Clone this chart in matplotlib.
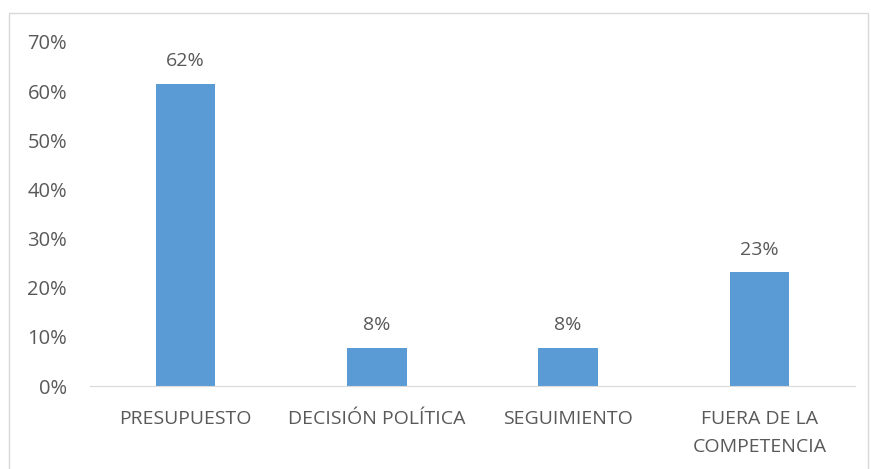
import matplotlib.pyplot as plt
from matplotlib.patches import Rectangle
from matplotlib.ticker import PercentFormatter

categories = ["PRESUPUESTO", "DECISIÓN POLÍTICA", "SEGUIMIENTO", "FUERA DE LA\nCOMPETENCIA"]
values = [0.615, 0.077, 0.077, 0.231]
labels = ["62%", "8%", "8%", "23%"]

plt.rcParams['font.family'] = ['Open Sans', 'DejaVu Sans']
txt = '#595959'

fig = plt.figure(figsize=(8.71, 4.69), dpi=100)
ax = fig.add_axes([90/871, 83/469, 765/871, 344/469])

x = range(len(categories))
ax.bar(x, values, width=0.31, color='#5b9bd5')
for i, v in enumerate(values):
    ax.text(i, v + 0.028, labels[i], ha='center', va='bottom', fontsize=14, color=txt)

ax.set_xlim(-0.5, 3.5)
ax.set_ylim(0, 0.7)
ax.set_yticks([i / 10 for i in range(8)])
ax.yaxis.set_major_formatter(PercentFormatter(1.0, decimals=0))
ax.set_xticks(list(x))
for lab in ax.set_xticklabels(categories, fontsize=14, color=txt, linespacing=1.75):
    lab.set_verticalalignment('top')
ax.tick_params(axis='y', labelsize=14.5, labelcolor=txt, length=0, pad=16.5)
ax.tick_params(axis='x', length=0, pad=17)
for s in ['top', 'right', 'left']:
    ax.spines[s].set_visible(False)
ax.spines['bottom'].set_color('#d9d9d9')

fig.patches.append(Rectangle((9/871, -0.1), 859/871, 1.1 - 13/469, transform=fig.transFigure,
                             fill=False, edgecolor='#d9d9d9', linewidth=1))

fig.savefig('out.png', dpi=100)
